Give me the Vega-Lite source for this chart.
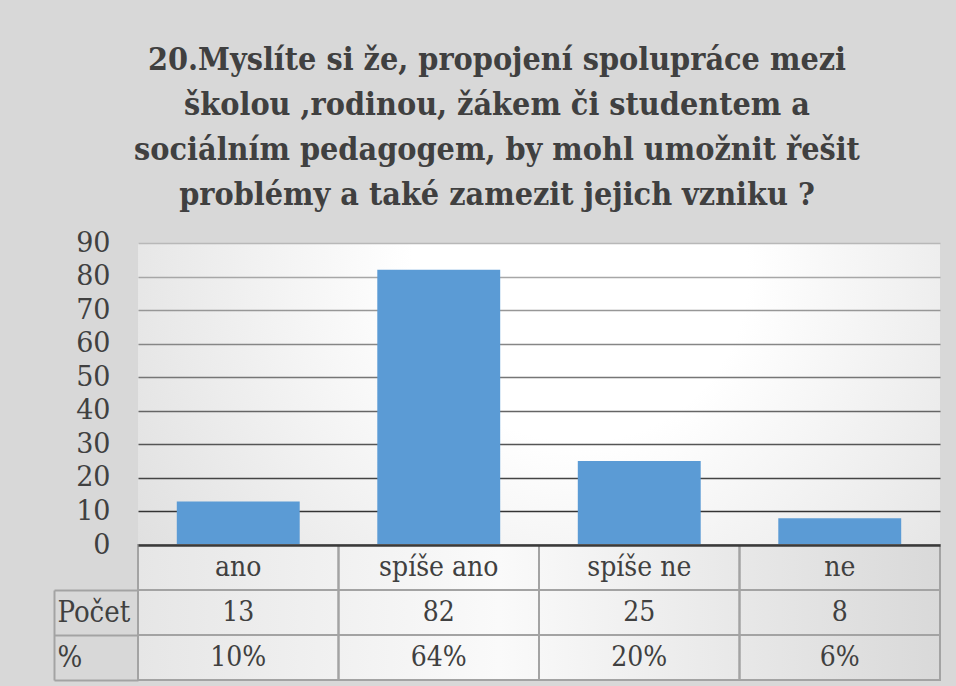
{
  "$schema": "https://vega.github.io/schema/vega-lite/v6.json",
  "background": "#d8d8d8",
  "padding": {"left": 53, "top": 44, "right": 16, "bottom": 6},
  "bounds": "flush",
  "spacing": 0,
  "title": {
    "text": [
      "20.Myslíte si že, propojení spolupráce mezi",
      "školou ,rodinou, žákem či studentem a",
      "sociálním pedagogem, by mohl umožnit řešit",
      "problémy a také zamezit jejich vzniku ?"
    ],
    "font": "DejaVu Serif Condensed",
    "fontSize": 32,
    "fontWeight": "bold",
    "color": "#404040",
    "lineHeight": 45,
    "anchor": "middle",
    "offset": 17
  },
  "datasets": {
    "odpovedi": [
      {"kat": "ano", "pocet": 13, "procenta": "10%"},
      {"kat": "spíše ano", "pocet": 82, "procenta": "64%"},
      {"kat": "spíše ne", "pocet": 25, "procenta": "20%"},
      {"kat": "ne", "pocet": 8, "procenta": "6%"}
    ]
  },
  "config": {
    "font": "DejaVu Serif",
    "view": {"stroke": null}
  },
  "vconcat": [
    {
      "width": 802,
      "height": 302,
      "data": {"name": "odpovedi"},
      "view": {
        "stroke": null,
        "fill": {
          "gradient": "radial",
          "x1": 0.55, "y1": 0.35, "r1": 0,
          "x2": 0.55, "y2": 0.35, "r2": 0.7,
          "stops": [
            {"offset": 0, "color": "#ffffff"},
            {"offset": 0.3, "color": "#ffffff"},
            {"offset": 1, "color": "#dcdcdc"}
          ]
        }
      },
      "mark": {"type": "bar", "color": "#5B9BD5"},
      "encoding": {
        "x": {
          "field": "kat",
          "type": "nominal",
          "sort": null,
          "scale": {"paddingInner": 0.387, "paddingOuter": 0.1935},
          "axis": null
        },
        "y": {
          "field": "pocet",
          "type": "quantitative",
          "scale": {"domain": [0, 90], "nice": false},
          "axis": {
            "title": null,
            "values": [0, 10, 20, 30, 40, 50, 60, 70, 80, 90],
            "domain": false,
            "ticks": false,
            "labelFont": "DejaVu Serif",
            "labelFontSize": 27,
            "labelColor": "#404040",
            "labelPadding": 28,
            "grid": true,
            "gridWidth": 1.6,
            "gridColor": {
              "condition": {"test": "datum.value >= 0", "expr": "'rgb(' + round(35 + datum.value * 1.65) + ',' + round(35 + datum.value * 1.65) + ',' + round(35 + datum.value * 1.65) + ')'"},
              "value": "#888888"
            }
          }
        }
      }
    },
    {
      "width": 802,
      "height": 135,
      "data": {"name": "odpovedi"},
      "transform": [{"fold": ["kat", "pocet", "procenta"], "as": ["radek", "hodnota"]}],
      "view": {
        "stroke": null,
        "fill": {
          "gradient": "linear",
          "x1": 0, "y1": 0, "x2": 1, "y2": 0,
          "stops": [
            {"offset": 0, "color": "#e6e6e6"},
            {"offset": 0.45, "color": "#fafafa"},
            {"offset": 1, "color": "#d9d9d9"}
          ]
        }
      },
      "encoding": {
        "x": {
          "field": "kat",
          "type": "nominal",
          "sort": null,
          "scale": {"paddingInner": 0, "paddingOuter": 0},
          "axis": {
            "orient": "top",
            "title": null,
            "labels": false,
            "ticks": false,
            "domain": true,
            "domainColor": "#3a3a3a",
            "domainWidth": 2.5,
            "zindex": 2
          }
        },
        "y": {
          "field": "radek",
          "type": "nominal",
          "scale": {"domain": ["kat", "pocet", "procenta"], "paddingInner": 0, "paddingOuter": 0},
          "axis": {
            "title": null,
            "orient": "left",
            "offset": 84,
            "labelExpr": "datum.value === 'pocet' ? 'Počet' : datum.value === 'procenta' ? '%' : ''",
            "labelAlign": "left",
            "labelPadding": 81,
            "labelFont": "DejaVu Serif Condensed",
            "labelFontSize": 29,
            "labelColor": "#404040",
            "tickOffset": 22.5,
            "labelOffset": -22.5,
            "tickSize": -84,
            "tickWidth": 2,
            "tickColor": "#a3a3a3",
            "domain": true,
            "domainColor": "#a3a3a3",
            "domainWidth": 2,
            "domainDash": [0, 45, 90]
          }
        }
      },
      "layer": [
        {"mark": {"type": "rect", "fill": null, "fillOpacity": 0, "stroke": "#a3a3a3", "strokeWidth": 2}},
        {
          "mark": {"type": "text", "font": "DejaVu Serif Condensed", "fontSize": 28, "color": "#404040"},
          "encoding": {"text": {"field": "hodnota"}}
        }
      ]
    }
  ]
}
